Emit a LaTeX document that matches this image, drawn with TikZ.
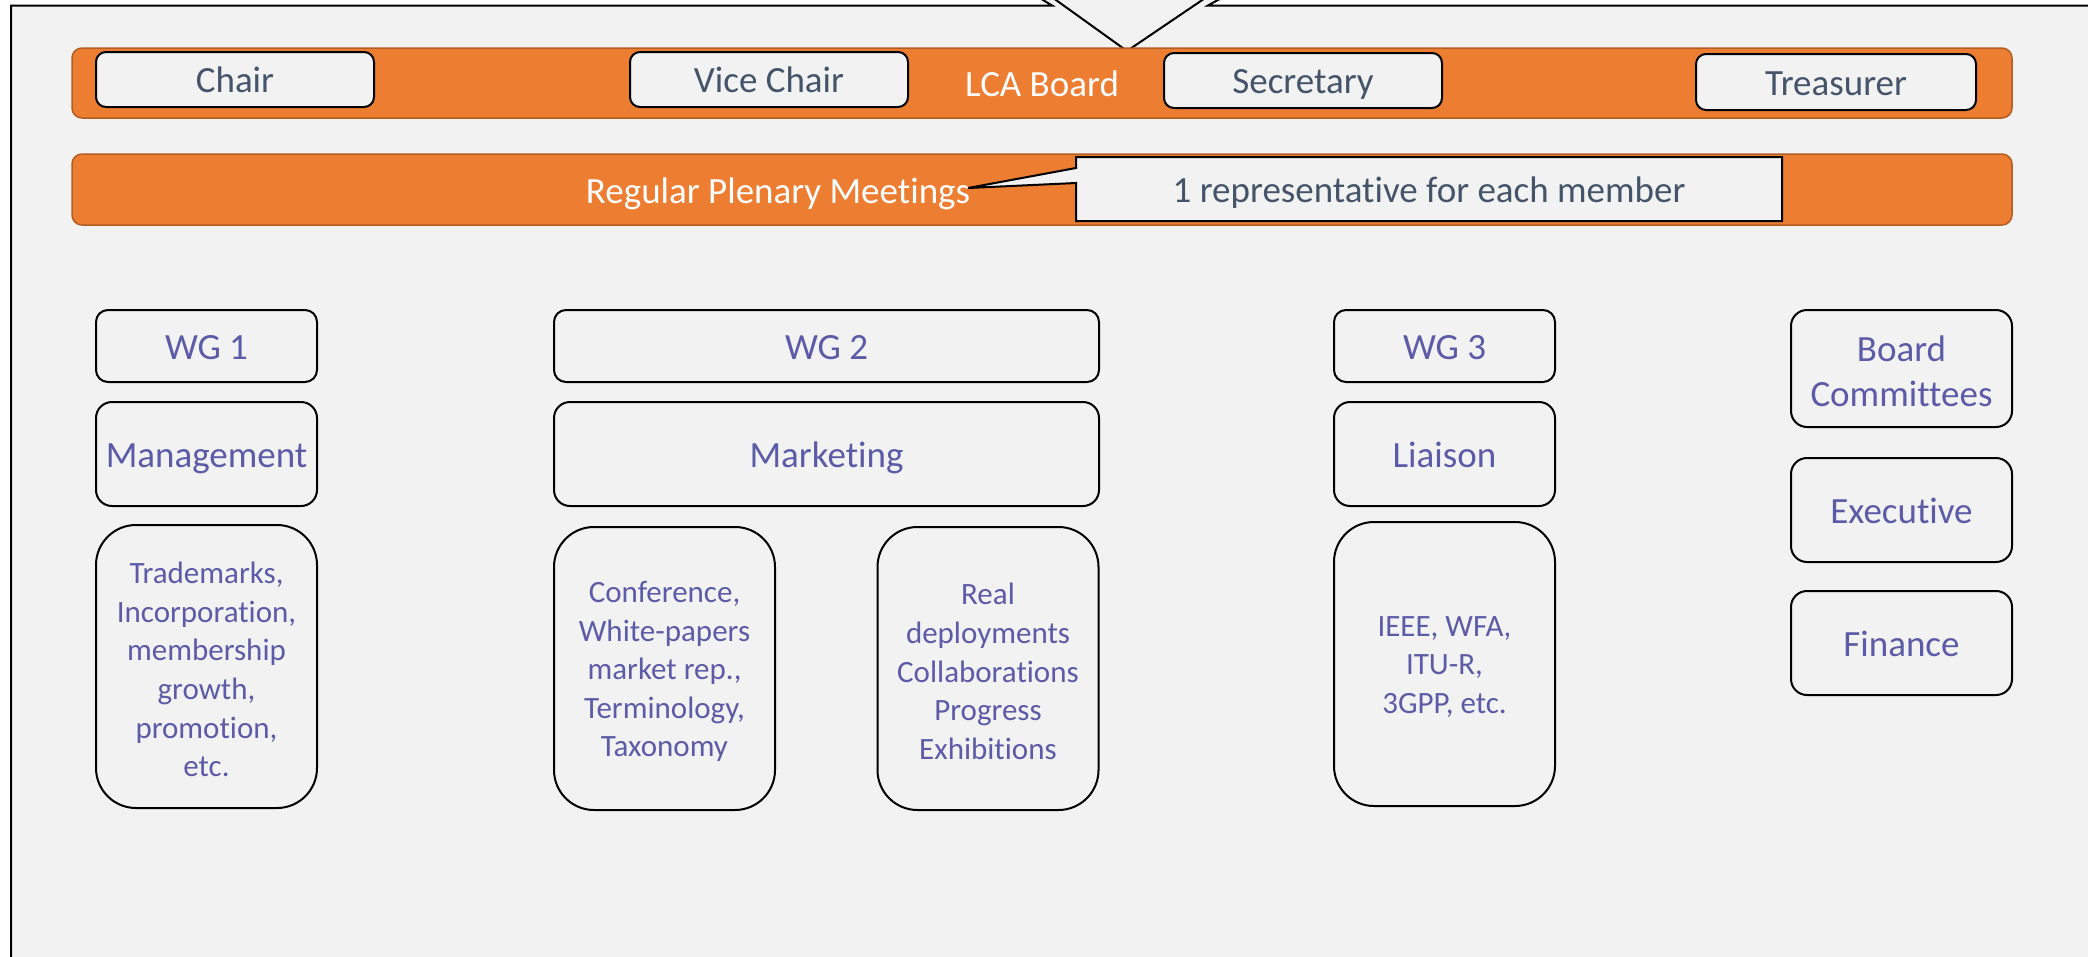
\documentclass[tikz,border=0pt]{standalone}
\usepackage{fontspec}
\setmainfont{Carlito}[Ligatures=CommonOff]
\usetikzlibrary{calc}
\definecolor{bgray}{HTML}{F2F2F2}
\definecolor{orng}{HTML}{ED7D31}
\definecolor{orngdk}{HTML}{B35D22}
\definecolor{slate}{HTML}{44546A}
\definecolor{wgtxt}{HTML}{5B5BA8}
\tikzset{
  oneline/.style={text height=26pt, text depth=0pt},
  bar/.style={draw=orngdk, line width=1.5pt, fill=orng, rounded corners=10pt, inner sep=0pt, outer sep=0pt, minimum width=1940pt, text=white, font=\fontsize{37}{45}\selectfont, oneline},
  rolebox/.style={draw=black, line width=2pt, fill=bgray, rounded corners=10pt, inner sep=0pt, outer sep=0pt, minimum width=278pt, minimum height=55pt, text=slate, font=\fontsize{37}{45}\selectfont, oneline},
  wgbox/.style={draw=black, line width=2pt, fill=bgray, rounded corners=12pt, inner sep=0pt, outer sep=0pt, minimum width=221pt, text=wgtxt, align=center, font=\fontsize{37}{45}\selectfont},
  tallbox/.style={wgbox, rounded corners=40pt, minimum height=283pt},
  wgtext/.style={inner sep=0pt, text=wgtxt, align=center, font=\fontsize{37}{45}\selectfont},
  smalltext/.style={wgtext, font=\fontsize{31}{38.6}\selectfont},
}
\begin{document}
\begin{tikzpicture}[x=1pt, y=-1pt]
\useasboundingbox (0,0) rectangle (2088,956);
\clip (0,0) rectangle (2088,956);
\fill[white] (0,0) rectangle (2088,956);
% outer callout frame
\coordinate (ftip) at (1127,51);
\draw[fill=bgray, line width=2pt, line join=miter]
  (11,1000) -- (11,5.5) -- (1052,5.5) -- (1026.5,-10) -- (1236,-10) -- (1208,5.5) -- (2110,5.5) -- (2110,1000) -- cycle;
\draw[line width=2pt] (1042,-10) -- (ftip) -- (1217,-10);
% LCA board bar
\node[bar, minimum height=70pt] (board) at (1042,83) {LCA Board};
\node[rolebox] (chair) at (235,79.5) {Chair};
\node[rolebox] (vice) at (769,79.5) {Vice Chair};
\node[rolebox] (secr) at (1303,80.5) {Secretary};
\node[rolebox, minimum width=280pt, minimum height=56pt] (treas) at (1836,82) {Treasurer};
% plenary bar
\node[bar, minimum height=71pt] (plenary) at (1042,189.5) {};
\node[inner sep=0pt, text=white, font=\fontsize{37}{45}\selectfont, oneline] (plentext) at (778,190) {Regular Plenary Meetings};
% representative callout
\coordinate (rtip) at (968,188);
\draw[fill=bgray, line width=2pt, line join=miter]
  (1076,157) -- (1782,157) -- (1782,221) -- (1076,221) -- (1076,183) -- (rtip) -- (1076,168) -- cycle;
\node[inner sep=0pt, text=slate, font=\fontsize{37}{45}\selectfont, oneline] (rep) at (1429,189) {1 representative for each member};
% WG 1
\node[wgbox, oneline, minimum height=72pt] (wg1) at (206.5,346) {WG 1};
\node[wgbox, oneline, minimum height=104pt, rounded corners=16pt] (mgmt) at (206.5,454) {Management};
\node[tallbox] (wg1tasks) at (206.5,666.5) {};
\node[smalltext] (wg1tasks-t) at ($(wg1tasks.center)+(0,3)$) {Trademarks,\\Incorporation,\\membership\\growth,\\promotion,\\etc.};
% WG 2
\node[wgbox, oneline, minimum width=545pt, minimum height=72pt] (wg2) at (826.5,346) {WG 2};
\node[wgbox, oneline, minimum width=545pt, minimum height=104pt, rounded corners=16pt] (mkt) at (826.5,454) {Marketing};
\node[tallbox] (conf) at (664.5,668.5) {};
\node[smalltext] (conf-t) at ($(conf.center)+(0,3)$) {Conference,\\White-papers\\market rep.,\\Terminology,\\Taxonomy};
\node[tallbox] (real) at (988,668.5) {};
\node[smalltext] (real-t) at ($(real.center)+(0,3)$) {Real\\deployments\\Collaborations\\Progress\\Exhibitions};
% WG 3
\node[wgbox, oneline, minimum height=72pt] (wg3) at (1444.5,346) {WG 3};
\node[wgbox, oneline, minimum height=104pt, rounded corners=16pt] (liaison) at (1444.5,454) {Liaison};
\node[tallbox, minimum height=284pt] (ieee) at (1444.5,664) {};
\node[smalltext] (ieee-t) at ($(ieee.center)+(0,3)$) {IEEE, WFA,\\ITU-R,\\3GPP, etc.};
% Board committees
\node[wgbox, minimum height=117pt, rounded corners=16pt] (bcomm) at (1901.5,368.5) {};
\node[wgtext] (bcomm-t) at ($(bcomm.center)+(0,3)$) {Board\\Committees};
\node[wgbox, oneline, minimum height=104pt, rounded corners=16pt] (exec) at (1901.5,510) {Executive};
\node[wgbox, oneline, minimum height=104pt, rounded corners=16pt] (fin) at (1901.5,643) {Finance};
\end{tikzpicture}
\end{document}
